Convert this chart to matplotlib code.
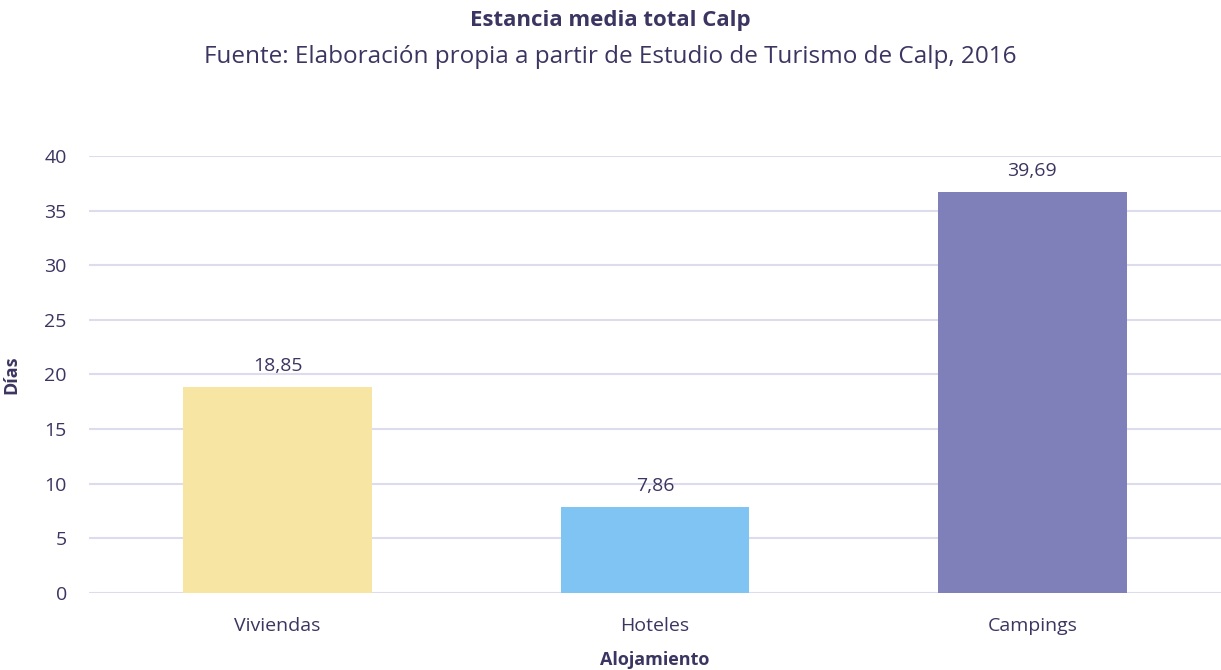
import matplotlib.pyplot as plt

categorias = ["Viviendas", "Hoteles", "Campings"]
alturas = [18.85, 7.86, 36.7]          # altura dibujada de cada barra
etiquetas = ["18,85", "7,86", "39,69"]  # valor mostrado sobre la barra
colores = ["#f6e5a3", "#7fc4f2", "#7f7fb9"]
ticks_y = [0, 5, 10, 15, 20, 25, 30, 35, 40]

texto = "#3b3561"
plt.rcParams['font.family'] = ['Open Sans', 'DejaVu Sans']

fig = plt.figure(figsize=(12.21, 6.70), dpi=100)
ax = fig.add_axes([0.0729, 0.1149, 0.9271, 0.6523])

x = range(len(categorias))
ax.bar(x, alturas, width=0.5, color=colores, zorder=3)
for xi, h, lab in zip(x, alturas, etiquetas):
    ax.text(xi, h + 1.1, lab, ha='center', va='bottom', fontsize=14, color=texto, clip_on=False)

ax.set_xlim(-0.5, 2.5)
ax.set_ylim(0, 40)
ax.set_yticks(ticks_y)
ax.set_xticks(list(x))
ax.set_xticklabels(categorias)
ax.yaxis.grid(True, color="#dddbee", linewidth=1.5, zorder=0)
ax.tick_params(axis='both', length=0, labelsize=14, labelcolor=texto)
ax.tick_params(axis='y', pad=16)
ax.tick_params(axis='x', pad=17)
for s in ax.spines.values():
    s.set_visible(False)

ax.set_ylabel("Días", fontsize=13, fontweight='bold', color=texto)
ax.yaxis.set_label_coords(-0.061, 0.5)
ax.set_xlabel("Alojamiento", fontsize=13, fontweight='bold', color=texto, labelpad=12)

fig.text(0.5, 0.969, "Estancia media total Calp", ha='center', va='center',
         fontsize=16, fontweight='bold', color=texto)
fig.text(0.5, 0.915, "Fuente: Elaboración propia a partir de Estudio de Turismo de Calp, 2016",
         ha='center', va='center', fontsize=17.5, color=texto)

plt.savefig('out.png')
